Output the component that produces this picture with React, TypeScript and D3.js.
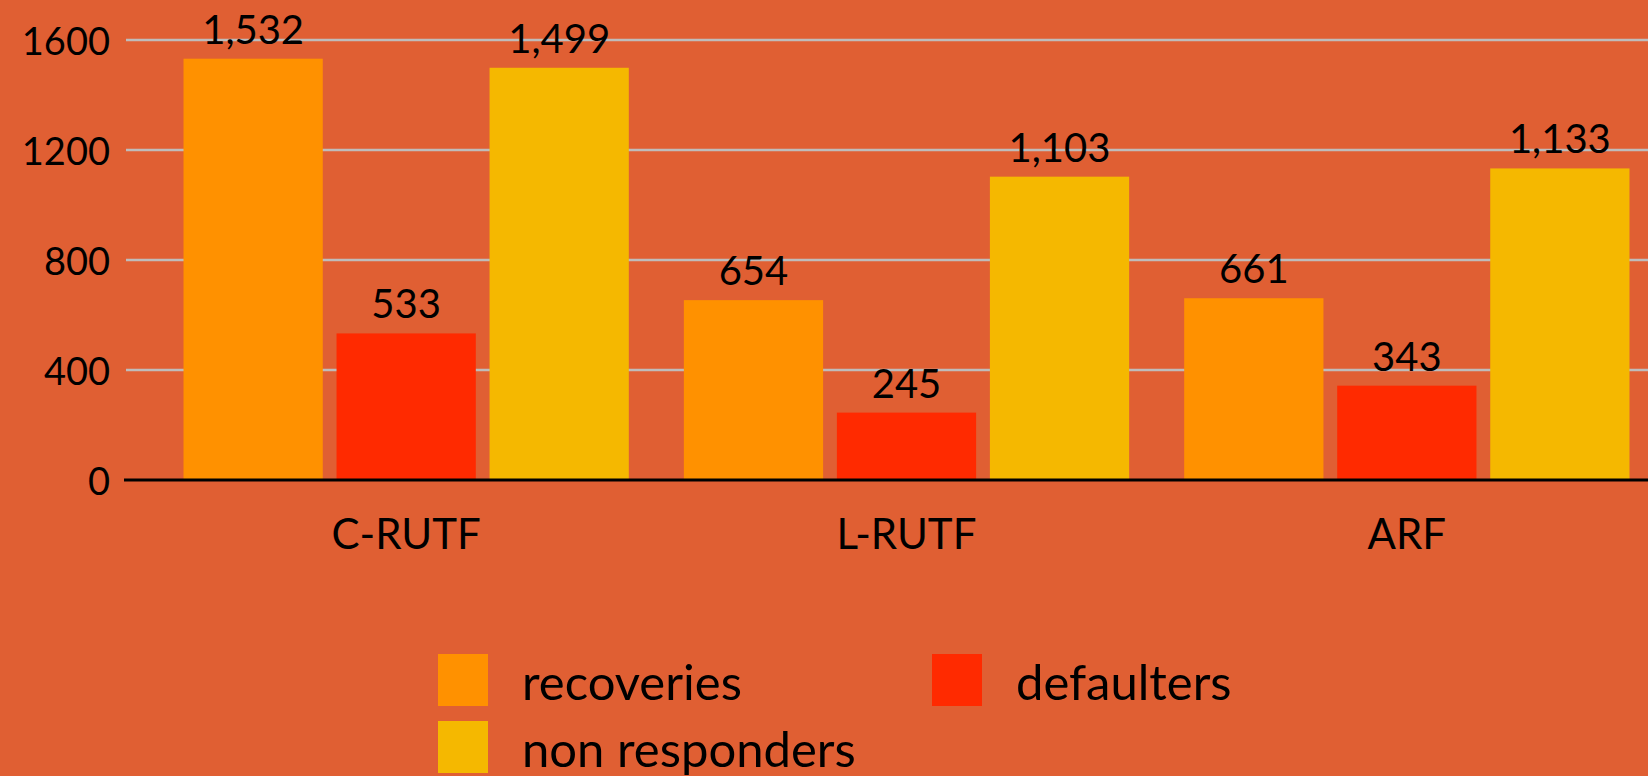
import { useMemo } from 'react';
import * as d3 from 'd3';

const categories = ['C-RUTF', 'L-RUTF', 'ARF'];
const seriesNames = ['recoveries', 'defaulters', 'non responders'];
const recoveries = [1532, 654, 661];
const defaulters = [533, 245, 343];
const nonResponders = [1499, 1103, 1133];
const yTicks = [0, 400, 800, 1200, 1600];

const colors = ['#ff9100', '#ff2a00', '#f5b800'];
const bg = '#e05f33';
const font = 'Lato, sans-serif';

const W = 1648;
const H = 776;
const specs = {
  axisLeft: 126,
  bandLeft: 156,
  bandRight: 1657,
  top: 40,
  bottom: 480,
};

const App = () => {
  const values = [recoveries, defaulters, nonResponders];

  const x0 = useMemo(
    () => d3.scaleBand<string>().domain(categories).range([specs.bandLeft, specs.bandRight]).paddingInner(0.11).paddingOuter(0.055),
    []
  );
  const x1 = useMemo(
    () => d3.scaleBand<string>().domain(seriesNames).range([0, x0.bandwidth()]).paddingInner(0.09),
    [x0]
  );
  const y = d3.scaleLinear().domain([0, 1600]).range([specs.bottom, specs.top]);
  const fmt = d3.format(',');

  return (
    <svg width={W} height={H} style={{ position: 'fixed', left: 0, top: 0, display: 'block' }}>
      <rect width={W} height={H} fill={bg} />

      {/* grid + y ticks */}
      {yTicks.map((t) => (
        <g key={t}>
          {t !== 0 && (
            <line x1={specs.axisLeft} x2={W} y1={y(t)} y2={y(t)} stroke="#bfbcba" strokeWidth={2.5} />
          )}
          <text x={110} y={y(t)} textAnchor="end" dominantBaseline="central" fontFamily={font} fontSize={38} fill="#000">
            {t}
          </text>
        </g>
      ))}

      {/* bars */}
      {categories.map((c, ci) => (
        <g key={c} transform={`translate(${x0(c)},0)`}>
          {seriesNames.map((s, si) => {
            const v = values[si][ci];
            const bx = x1(s) as number;
            const bw = x1.bandwidth();
            return (
              <g key={s}>
                <rect x={bx} y={y(v)} width={bw} height={y(0) - y(v)} fill={colors[si]} />
                <text x={bx + bw / 2} y={y(v) - 15} textAnchor="middle" fontFamily={font} fontSize={40} fill="#000">
                  {fmt(v)}
                </text>
              </g>
            );
          })}
          <text x={x0.bandwidth() / 2} y={549} textAnchor="middle" fontFamily={font} fontSize={42} fill="#000">
            {c}
          </text>
        </g>
      ))}

      {/* x axis line */}
      <line x1={specs.axisLeft - 2} x2={W} y1={y(0)} y2={y(0)} stroke="#000" strokeWidth={3} />

      {/* legend */}
      {seriesNames.map((s, i) => {
        const lx = 438 + (i % 2) * 494;
        const ly = 654 + Math.floor(i / 2) * 67;
        return (
          <g key={s} transform={`translate(${lx},${ly})`}>
            <rect width={50} height={52} fill={colors[i]} />
            <text x={84} y={46} fontFamily={font} fontSize={49} fill="#000">
              {s}
            </text>
          </g>
        );
      })}
    </svg>
  );
};

export default App;
